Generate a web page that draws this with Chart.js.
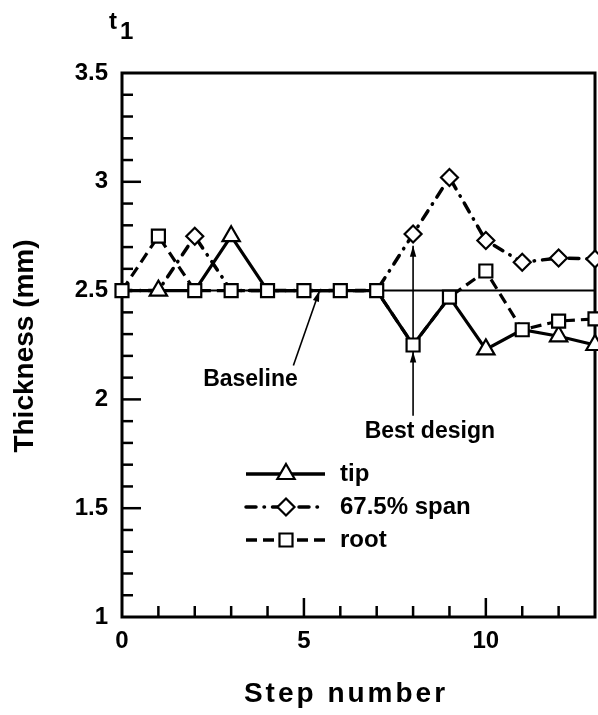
<!DOCTYPE html>
<html>
<head>
<meta charset="utf-8">
<script src="https://cdn.jsdelivr.net/npm/chart.js@4.4.0/dist/chart.umd.min.js"></script>
<style>
html, body { margin: 0; padding: 0; background: #fff; }
#wrap { width: 598px; height: 715px; }
</style>
</head>
<body>
<div id="wrap"><canvas id="thickChart" width="598" height="715"></canvas></div>
<script>
// values
var steps    = [0, 1, 2, 3, 4, 5, 6, 7, 8, 9, 10, 11, 12, 13];
var tipVals  = [2.5, 2.5, 2.5, 2.75, 2.5, 2.5, 2.5, 2.5, 2.25, 2.47, 2.23, 2.32, 2.29, 2.25];
var spanVals = [2.5, 2.5, 2.75, 2.5, 2.5, 2.5, 2.5, 2.5, 2.76, 3.02, 2.73, 2.63, 2.65, 2.645];
var rootVals = [2.5, 2.75, 2.5, 2.5, 2.5, 2.5, 2.5, 2.5, 2.25, 2.47, 2.59, 2.32, 2.36, 2.37];
var baselineX = [0, 13];
var baselineY = [2.5, 2.5];
var yMajorTicks = [1, 1.5, 2, 2.5, 3, 3.5];
var xMajorTicks = [0, 5, 10];
var seriesNames = ['tip', '67.5% span', 'root'];

var FONT = '"Liberation Sans", Arial, sans-serif';

function toPoints(xs, ys) {
	return xs.map(function(x, i) { return { x: x, y: ys[i] }; });
}

// hide a marker where a series drawn on top already has one
function markerSizes(vals, above, r) {
	return vals.map(function(v, i) {
		return above.some(function(o) { return o[i] === v; }) ? 0 : r;
	});
}

var dashTip = [];
var dashSpan = [10, 8, 0.5, 8];
var dashRoot = [11, 6];

function drawMarker(ctx, style, r, x, y) {
	ctx.save();
	ctx.setLineDash([]);
	ctx.fillStyle = '#fff';
	ctx.strokeStyle = '#000';
	ctx.lineWidth = 2.2;
	ctx.beginPath();
	if (style == 'triangle') {
		var a = 0;
		ctx.moveTo(x + Math.sin(a) * r, y - Math.cos(a) * r);
		a += Math.PI * 2 / 3;
		ctx.lineTo(x + Math.sin(a) * r, y - Math.cos(a) * r);
		a += Math.PI * 2 / 3;
		ctx.lineTo(x + Math.sin(a) * r, y - Math.cos(a) * r);
	} else if (style == 'rectRot') {
		ctx.moveTo(x, y - r);
		ctx.lineTo(x + r, y);
		ctx.lineTo(x, y + r);
		ctx.lineTo(x - r, y);
	} else {
		var s = Math.SQRT1_2 * r;
		ctx.rect(x - s, y - s, 2 * s, 2 * s);
	}
	ctx.closePath();
	ctx.fill();
	ctx.stroke();
	ctx.restore();
}

function arrow(ctx, x1, y1, x2, y2) {
	var ang = Math.atan2(y2 - y1, x2 - x1);
	ctx.beginPath();
	ctx.moveTo(x1, y1);
	ctx.lineTo(x2, y2);
	ctx.stroke();
	arrowHead(ctx, x2, y2, ang);
}

function arrowHead(ctx, x, y, ang) {
	var len = 11, half = 3.2;
	ctx.beginPath();
	ctx.moveTo(x, y);
	ctx.lineTo(x - len * Math.cos(ang) + half * Math.sin(ang), y - len * Math.sin(ang) - half * Math.cos(ang));
	ctx.lineTo(x - len * Math.cos(ang) - half * Math.sin(ang), y - len * Math.sin(ang) + half * Math.cos(ang));
	ctx.closePath();
	ctx.fill();
}

var framePlugin = {
	id: 'frame',
	beforeDatasetsDraw: function(chart) {
		var ctx = chart.ctx, a = chart.chartArea;
		var xs = chart.scales.x, ys = chart.scales.y;
		ctx.save();
		ctx.strokeStyle = '#000';
		ctx.fillStyle = '#000';
		ctx.lineWidth = 2.5;
		// inward ticks on left axis, every 0.1
		for (var i = 11; i < 35; i++) {
			var py = ys.getPixelForValue(i / 10);
			var len = (i % 5 === 0) ? 19 : 11;
			ctx.beginPath();
			ctx.moveTo(a.left, py);
			ctx.lineTo(a.left + len, py);
			ctx.stroke();
		}
		// inward ticks on bottom axis, every step
		for (var s = 1; s < 13; s++) {
			var px = xs.getPixelForValue(s);
			var l2 = (s % 5 === 0) ? 19 : 11;
			ctx.beginPath();
			ctx.moveTo(px, a.bottom);
			ctx.lineTo(px, a.bottom - l2);
			ctx.stroke();
		}
		ctx.lineWidth = 3;
		ctx.strokeRect(a.left, a.top, a.right - a.left, a.bottom - a.top);

		// annotations
		ctx.lineWidth = 1.6;
		arrow(ctx, xs.getPixelForValue(4.71), ys.getPixelForValue(2.156),
			xs.getPixelForValue(5.43), ys.getPixelForValue(2.5));
		var bx = xs.getPixelForValue(8);
		ctx.beginPath();
		ctx.moveTo(bx, ys.getPixelForValue(1.925));
		ctx.lineTo(bx, ys.getPixelForValue(2.706));
		ctx.stroke();
		arrowHead(ctx, bx, ys.getPixelForValue(2.706), -Math.PI / 2);
		arrowHead(ctx, bx, ys.getPixelForValue(2.22), -Math.PI / 2);

		ctx.font = 'bold 23px ' + FONT;
		ctx.textAlign = 'center';
		ctx.textBaseline = 'middle';
		ctx.fillText('Baseline', xs.getPixelForValue(3.53), ys.getPixelForValue(2.092));
		ctx.fillText('Best design', xs.getPixelForValue(8.46), ys.getPixelForValue(1.853));
		ctx.restore();
	},
	afterDraw: function(chart) {
		var ctx = chart.ctx;
		ctx.save();
		ctx.fillStyle = '#000';
		ctx.strokeStyle = '#000';

		// legend
		var rows = [
			{ y: 474, dash: dashTip, cap: 'butt', style: 'triangle', r: 10 },
			{ y: 507, dash: dashSpan, cap: 'round', style: 'rectRot', r: 8.5 },
			{ y: 540, dash: dashRoot, cap: 'butt', style: 'rect', r: 9.2 }
		];
		ctx.font = 'bold 24px ' + FONT;
		ctx.textAlign = 'left';
		ctx.textBaseline = 'middle';
		rows.forEach(function(row, i) {
			ctx.lineWidth = 3.5;
			ctx.lineCap = row.cap;
			ctx.setLineDash(row.dash);
			ctx.beginPath();
			ctx.moveTo(246, row.y);
			ctx.lineTo(325, row.y);
			ctx.stroke();
			drawMarker(ctx, row.style, row.r, 286, row.y);
			ctx.fillText(seriesNames[i], 340, row.y);
		});
		ctx.setLineDash([]);
		ctx.lineCap = 'butt';

		// axis titles
		ctx.font = 'bold 28px ' + FONT;
		ctx.textAlign = 'center';
		ctx.textBaseline = 'alphabetic';
		ctx.save();
		ctx.letterSpacing = '3px';
		ctx.fillText('Step number', 346, 702);
		ctx.restore();
		ctx.save();
		ctx.translate(33, 346);
		ctx.rotate(-Math.PI / 2);
		ctx.fillText('Thickness (mm)', 0, 0);
		ctx.restore();

		// t1 label
		ctx.textAlign = 'left';
		ctx.font = 'bold 24px ' + FONT;
		ctx.fillText('t', 109, 29);
		ctx.fillText('1', 120, 39);
		ctx.restore();
	}
};

var ctx = document.getElementById('thickChart').getContext('2d');

var dataset = {
	datasets: [
		{
			label: seriesNames[2],
			data: toPoints(steps, rootVals),
			borderColor: '#000',
			borderWidth: 3.2,
			borderDash: dashRoot,
			pointStyle: 'rect',
			pointRadius: 9.2,
			pointBackgroundColor: '#fff',
			pointBorderColor: '#000',
			pointBorderWidth: 2.2,
			order: 0
		},
		{
			label: seriesNames[0],
			data: toPoints(steps, tipVals),
			borderColor: '#000',
			borderWidth: 3.2,
			pointStyle: 'triangle',
			pointRadius: markerSizes(tipVals, [rootVals], 10),
			pointBackgroundColor: '#fff',
			pointBorderColor: '#000',
			pointBorderWidth: 2.2,
			order: 1
		},
		{
			label: seriesNames[1],
			data: toPoints(steps, spanVals),
			borderColor: '#000',
			borderWidth: 3.5,
			borderDash: dashSpan,
			borderCapStyle: 'round',
			pointStyle: 'rectRot',
			pointRadius: markerSizes(spanVals, [rootVals, tipVals], 8.5),
			pointBackgroundColor: '#fff',
			pointBorderColor: '#000',
			pointBorderWidth: 2.2,
			order: 2
		},
		{
			label: 'baseline',
			data: toPoints(baselineX, baselineY),
			borderColor: '#000',
			borderWidth: 2,
			pointRadius: 0,
			order: 3
		}
	]
};

var options = {
	responsive: false,
	animation: false,
	devicePixelRatio: 1,
	layout: { autoPadding: false, padding: { left: 0, top: 73, right: 3, bottom: 0 } },
	elements: { line: { tension: 0 }, point: { hoverRadius: 0 } },
	datasets: { line: { clip: false } },
	plugins: {
		legend: { display: false },
		tooltip: { enabled: false },
		title: { display: false }
	},
	scales: {
		x: {
			type: 'linear',
			min: 0,
			max: 13,
			grid: { display: false, drawTicks: false },
			border: { display: false },
			afterBuildTicks: function(scale) {
				scale.ticks = xMajorTicks.map(function(v) { return { value: v }; });
			},
			afterFit: function(scale) {
				scale.height = 98;
				scale.paddingLeft = 0;
				scale.paddingRight = 0;
			},
			ticks: {
				color: '#000',
				padding: 10,
				maxRotation: 0,
				font: { family: FONT, size: 24, weight: 'bold' },
				callback: function(v) { return String(v); }
			}
		},
		y: {
			type: 'linear',
			min: 1,
			max: 3.5,
			grid: { display: false, drawTicks: false },
			border: { display: false },
			afterBuildTicks: function(scale) {
				scale.ticks = yMajorTicks.map(function(v) { return { value: v }; });
			},
			afterFit: function(scale) {
				scale.width = 122;
				scale.paddingTop = 0;
				scale.paddingBottom = 0;
			},
			ticks: {
				color: '#000',
				padding: 14,
				font: { family: FONT, size: 24, weight: 'bold' },
				callback: function(v) { return String(v); }
			}
		}
	}
};

new Chart(ctx, {
	type: 'line',
	data: dataset,
	options: options,
	plugins: [framePlugin]
});
</script>
</body>
</html>
